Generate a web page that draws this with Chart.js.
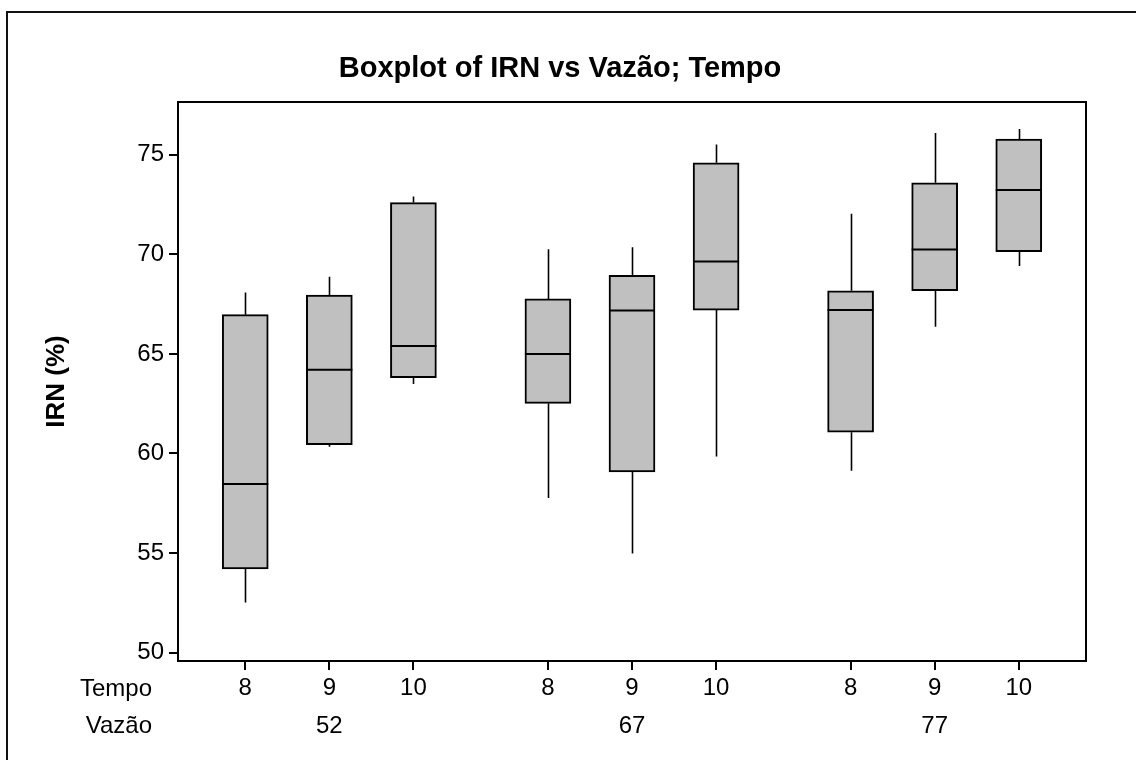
<!DOCTYPE html>
<html>
<head>
<meta charset="utf-8">
<script src="https://cdn.jsdelivr.net/npm/chart.js@4.4.1/dist/chart.umd.min.js"></script>
<style>
  html, body { margin: 0; padding: 0; background: #ffffff; }
  #wrap { width: 1136px; height: 760px; position: relative; }
</style>
</head>
<body>
<div id="wrap"><canvas id="c" width="1136" height="760"></canvas></div>
<script>
// ---- Data ----
const vazaoGroups = ['52', '67', '77'];
const tempoLevels = ['8', '9', '10'];
const whiskerLow  = [52.52, 60.34, 63.49, 57.76, 54.98, 59.85, 59.13, 66.36, 69.42];
const q1          = [54.21, 60.44, 63.81, 62.52, 59.07, 67.20, 61.07, 68.17, 70.13];
const median      = [58.47, 64.20, 65.40, 65.00, 67.18, 69.64, 67.20, 70.24, 73.23];
const q3          = [66.97, 67.96, 72.60, 67.76, 68.95, 74.60, 68.17, 73.59, 75.79];
const whiskerHigh = [68.08, 68.87, 72.90, 70.26, 70.36, 75.52, 72.04, 76.09, 76.29];
const yTickValues = [50, 55, 60, 65, 70, 75];

// ---- Layout constants ----
const GROUP_STEP = 3.6;
const FONT = '"Liberation Sans", Arial, sans-serif';

const xPos = [];
const tempoLabels = [];
vazaoGroups.forEach((g, gi) => {
  tempoLevels.forEach((t, ti) => {
    xPos.push(gi * GROUP_STEP + ti);
    tempoLabels.push(t);
  });
});

const boxData = xPos.map((x, i) => ({ x: x, y: [q1[i], q3[i]] }));

const decor = {
  id: 'decor',
  beforeDraw(chart) {
    const ctx = chart.ctx;
    ctx.save();
    ctx.fillStyle = '#ffffff';
    ctx.fillRect(0, 0, chart.width, chart.height);
    ctx.strokeStyle = '#111111';
    ctx.lineWidth = 2;
    ctx.strokeRect(7, 12, chart.width + 20, chart.height + 20);
    ctx.restore();
  },
  beforeDatasetsDraw(chart) {
    const ctx = chart.ctx;
    const xs = chart.scales.x, ys = chart.scales.y;
    ctx.save();
    ctx.strokeStyle = '#000000';
    ctx.lineWidth = 1.6;
    xPos.forEach((x, i) => {
      const px = Math.round(xs.getPixelForValue(x)) + 0.5;
      ctx.beginPath();
      ctx.moveTo(px, ys.getPixelForValue(whiskerHigh[i]));
      ctx.lineTo(px, ys.getPixelForValue(q3[i]));
      ctx.moveTo(px, ys.getPixelForValue(q1[i]));
      ctx.lineTo(px, ys.getPixelForValue(whiskerLow[i]));
      ctx.stroke();
    });
    ctx.restore();
  },
  afterDatasetsDraw(chart) {
    const ctx = chart.ctx;
    const ys = chart.scales.y;
    const meta = chart.getDatasetMeta(0);
    ctx.save();
    ctx.strokeStyle = '#000000';
    ctx.lineWidth = 2;
    meta.data.forEach((bar, i) => {
      const y = ys.getPixelForValue(median[i]);
      ctx.beginPath();
      ctx.moveTo(bar.x - bar.width / 2, y);
      ctx.lineTo(bar.x + bar.width / 2, y);
      ctx.stroke();
    });
    const a = chart.chartArea;
    ctx.lineWidth = 2;
    ctx.strokeStyle = '#000000';
    ctx.strokeRect(a.left, a.top, a.right - a.left, a.bottom - a.top);
    ctx.restore();
  },
  afterDraw(chart) {
    const ctx = chart.ctx;
    const xs = chart.scales.x;
    ctx.save();
    ctx.fillStyle = '#000000';
    ctx.font = 'bold 29px ' + FONT;
    ctx.textAlign = 'center';
    ctx.textBaseline = 'alphabetic';
    ctx.fillText('Boxplot of IRN vs Vaz\u00e3o; Tempo', 560, 77);
    ctx.save();
    ctx.translate(57, (chart.chartArea.top + chart.chartArea.bottom) / 2);
    ctx.rotate(-Math.PI / 2);
    ctx.font = 'bold 26px ' + FONT;
    ctx.textBaseline = 'middle';
    ctx.fillText('IRN (%)', 0, 0);
    ctx.restore();
    ctx.font = '24px ' + FONT;
    ctx.textAlign = 'right';
    ctx.textBaseline = 'middle';
    ctx.fillText('Tempo', 152, 689);
    ctx.fillText('Vaz\u00e3o', 152, 726);
    ctx.textAlign = 'center';
    vazaoGroups.forEach((g, gi) => {
      const mid = gi * GROUP_STEP + (tempoLevels.length - 1) / 2;
      ctx.fillText(g, xs.getPixelForValue(mid), 726);
    });
    ctx.restore();
  }
};

new Chart(document.getElementById('c'), {
  type: 'bar',
  data: {
    datasets: [{
      label: 'IRN',
      data: boxData,
      backgroundColor: '#c0c0c0',
      borderColor: '#000000',
      borderWidth: 2,
      borderSkipped: false,
      barThickness: 46
    }]
  },
  options: {
    responsive: false,
    animation: false,
    devicePixelRatio: 1,
    layout: { padding: { left: 0, right: 50, top: 102, bottom: 0 } },
    plugins: {
      legend: { display: false },
      tooltip: { enabled: false },
      title: { display: false }
    },
    scales: {
      x: {
        type: 'linear',
        offset: false,
        min: -0.8,
        max: 10.0,
        afterBuildTicks(scale) { scale.ticks = xPos.map(v => ({ value: v })); },
        afterFit(scale) { scale.height = 99; },
        border: { display: false },
        grid: { offset: false, drawOnChartArea: false, drawTicks: true, tickLength: 9, color: '#000000', lineWidth: 2 },
        ticks: {
          autoSkip: false,
          maxRotation: 0,
          padding: 4,
          color: '#000000',
          font: { family: FONT, size: 24 },
          callback(value) {
            const idx = xPos.findIndex(p => Math.abs(p - value) < 1e-6);
            return idx >= 0 ? tempoLabels[idx] : '';
          }
        }
      },
      y: {
        type: 'linear',
        min: 49.58,
        max: 77.65,
        afterBuildTicks(scale) { scale.ticks = yTickValues.map(v => ({ value: v })); },
        afterFit(scale) { scale.width = 178; },
        border: { display: false },
        grid: { drawOnChartArea: false, drawTicks: true, tickLength: 9, color: '#000000', lineWidth: 2 },
        ticks: {
          padding: 5,
          color: '#000000',
          font: { family: FONT, size: 24 }
        }
      }
    }
  },
  plugins: [decor]
});
</script>
</body>
</html>
